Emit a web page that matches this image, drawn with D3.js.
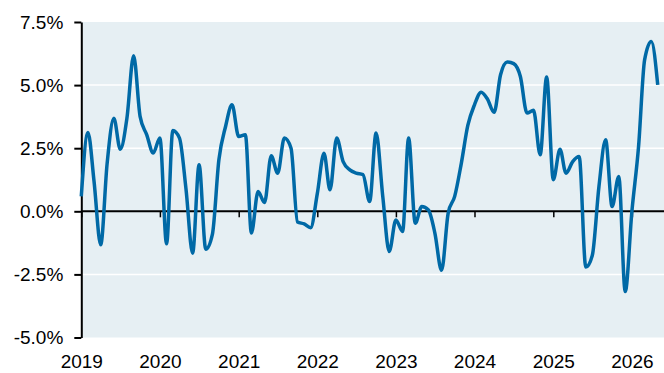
<!DOCTYPE html>
<html>
<head>
<meta charset="utf-8">
<script src="https://cdn.jsdelivr.net/npm/d3@7/dist/d3.min.js"></script>
<style>
  html, body { margin: 0; padding: 0; background: #ffffff; }
  svg { display: block; }
  text { font-family: "Liberation Sans", Arial, sans-serif; fill: #000; }
</style>
</head>
<body>
<svg id="chart" width="664" height="373"></svg>
<script>
// Monthly growth rate (%), January 2019 onward
const firstMonth = "2019-01";
const growth = [
  0.59, 3.12, 1.20, -1.33, 1.90, 3.69, 2.46, 3.70, 6.16, 3.76, 3.03, 2.31,
  2.90, -1.29, 3.20, 2.90, 0.90, -1.66, 1.84, -1.50, -0.90, 2.04, 3.36, 4.22,
  2.96, 3.03, -0.86, 0.78, 0.35, 2.20, 1.51, 2.90, 2.50, -0.42, -0.50, -0.65,
  0.70, 2.30, 0.85, 2.90, 1.97, 1.64, 1.51, 1.45, 0.39, 3.10, 0.59, -1.59,
  -0.34, -0.80, 2.90, -0.47, 0.19, 0.05, -0.86, -2.34, -0.06, 0.59, 1.91, 3.40,
  4.22, 4.72, 4.45, 3.92, 5.41, 5.92, 5.85, 5.34, 3.89, 4.00, 2.24, 5.32,
  1.25, 2.46, 1.51, 1.97, 2.17, -2.21, -1.75, 0.98, 2.83, 0.19, 1.38, -3.18,
  0.00, 2.57, 6.00, 6.73, 5.01
];

// Axis ticks
const yearTicks = [2019, 2020, 2021, 2022, 2023, 2024, 2025, 2026];
const valueTicks = [-5, -2.5, 0, 2.5, 5, 7.5];

const start = d3.timeParse("%Y-%m")(firstMonth);
const series = growth.map((v, i) => ({ date: d3.timeMonth.offset(start, i), value: v }));

const svg = d3.select("#chart");
const plot = { left: 81.3, right: 664, top: 22, bottom: 337.5 };

const x = d3.scaleTime()
  .domain([new Date(2019, 0, 1), new Date(2026, 0, 1)])
  .range([plot.left, 631.9]);
const y = d3.scaleLinear()
  .domain([-5, 7.5])
  .range([plot.bottom, plot.top]);

// Percent labels with a plain hyphen for negatives
const pct = d => d.toFixed(1) + "%";

// Plot background
svg.append("rect")
  .attr("x", plot.left)
  .attr("y", plot.top)
  .attr("width", plot.right - plot.left)
  .attr("height", plot.bottom - plot.top)
  .attr("fill", "#e6eff3");

// Horizontal gridlines
svg.append("g")
  .selectAll("line")
  .data(valueTicks.filter(v => v !== 0 && v !== 7.5 && v !== -5))
  .join("line")
  .attr("x1", plot.left)
  .attr("x2", plot.right)
  .attr("y1", d => y(d))
  .attr("y2", d => y(d))
  .attr("stroke", "#ffffff")
  .attr("stroke-width", 1.5);

const yearDates = yearTicks.map(yr => new Date(yr, 0, 1));

// Zero line with year ticks
const zeroAxis = svg.append("g")
  .attr("transform", `translate(0,${y(0)})`)
  .call(d3.axisBottom(x).tickValues(yearDates).tickSize(6).tickSizeOuter(0).tickFormat(""));
zeroAxis.select(".domain").remove();
zeroAxis.selectAll(".tick line").attr("stroke", "#000").attr("stroke-width", 1.5);
svg.append("line")
  .attr("x1", plot.left)
  .attr("x2", plot.right)
  .attr("y1", y(0))
  .attr("y2", y(0))
  .attr("stroke", "#000")
  .attr("stroke-width", 2);

// Year labels along the bottom
const xLabels = svg.append("g")
  .attr("transform", `translate(0,${plot.bottom})`)
  .call(d3.axisBottom(x).tickValues(yearDates).tickSize(0).tickPadding(17)
    .tickFormat(d3.timeFormat("%Y")));
xLabels.select(".domain").remove();
xLabels.selectAll("text")
  .attr("font-size", 19)
  .attr("font-family", "Liberation Sans, Arial, sans-serif")
  .attr("fill", "#000");

// Value axis
const yAxis = svg.append("g")
  .attr("transform", `translate(${plot.left},0)`)
  .call(d3.axisLeft(y).tickValues(valueTicks).tickSize(7).tickSizeOuter(0).tickPadding(11)
    .tickFormat(pct));
yAxis.select(".domain").attr("stroke", "#000").attr("stroke-width", 2);
yAxis.selectAll(".tick line").attr("stroke", "#000").attr("stroke-width", 2);
yAxis.selectAll("text")
  .attr("font-size", 19)
  .attr("font-family", "Liberation Sans, Arial, sans-serif")
  .attr("fill", "#000");

// Series line
const line = d3.line()
  .x(d => x(d.date))
  .y(d => y(d.value))
  .curve(d3.curveMonotoneX);

svg.append("path")
  .datum(series)
  .attr("d", line)
  .attr("fill", "none")
  .attr("stroke", "#0069a6")
  .attr("stroke-width", 3.5)
  .attr("stroke-linejoin", "round")
  .attr("stroke-linecap", "butt");
</script>
</body>
</html>
